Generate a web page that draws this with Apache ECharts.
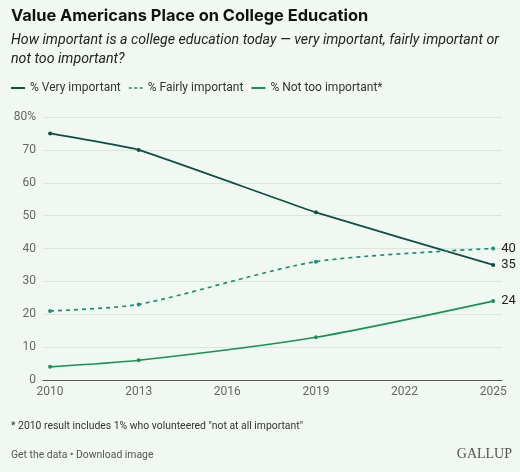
<!DOCTYPE html>
<html>
<head>
<meta charset="utf-8">
<script src="https://cdn.jsdelivr.net/npm/echarts@6/dist/echarts.min.js"></script>
<style>
  html, body { margin: 0; padding: 0; background: #f1f8f1; }
  #container { width: 520px; height: 472px; }
</style>
</head>
<body>
<div id="container"></div>
<script>
var years = [2010, 2013, 2019, 2025];
var yearTicks = [2010, 2013, 2016, 2019, 2022, 2025];
var veryImportant = [75, 70, 51, 35];
var fairlyImportant = [21, 23, 36, 40];
var notTooImportant = [4, 6, 13, 24];
var seriesNames = ['% Very important', '% Fairly important', '% Not too important*'];

function pairs(vals) {
    return vals.map(function (v, i) {
        var item = { value: [years[i], v] };
        if (i === vals.length - 1) {
            item.label = { show: true };
        }
        return item;
    });
}

var font = 'Roboto, "Noto Sans", sans-serif';
var dom = document.getElementById('container');
var myChart = echarts.init(dom);
var option = {
    backgroundColor: '#f1f8f1',
    textStyle: { fontFamily: font },
    graphic: [
        { type: 'text', left: 11, top: 8, style: { text: 'Value Americans Place on College Education', font: 'bold 16.4px Inter, ' + font, fill: '#111' } },
        { type: 'text', left: 11, top: 31, style: { text: 'How important is a college education today \u2014 very important, fairly important or\nnot too important?', font: 'italic 14.2px ' + font, fill: '#222', lineHeight: 19 } },
        { type: 'text', left: 11, top: 421, style: { text: '* 2010 result includes 1% who volunteered "not at all important"', font: '10.4px ' + font, fill: '#333' } },
        { type: 'text', left: 11, top: 450, style: { text: 'Get the data \u2022 Download image', font: '10.4px ' + font, fill: '#555' } },
        { type: 'text', right: 8, top: 447, style: { text: 'GALLUP', font: '14px "Liberation Serif", "DejaVu Serif", serif', fill: '#555' } }
    ],
    legend: {
        left: 11,
        top: 82,
        padding: 0,
        itemWidth: 14,
        itemHeight: 2,
        itemGap: 8,
        textStyle: { color: '#333', fontSize: 12, fontFamily: font },
        data: [
            { name: seriesNames[0], icon: 'rect' },
            { name: seriesNames[1], icon: 'path://M0,0h4v2h-4z M7,0h4v2h-4z M14,0h4v2h-4z' },
            { name: seriesNames[2], icon: 'rect' }
        ]
    },
    grid: { left: 43, right: 18, top: 117, bottom: 92 },
    xAxis: {
        type: 'value',
        min: 2009.76,
        max: 2025.3,
        axisLine: { show: true, lineStyle: { color: '#555', width: 1 } },
        axisTick: { show: false },
        splitLine: { show: false },
        axisLabel: {
            customValues: yearTicks,
            color: '#666',
            fontSize: 12,
            margin: 6,
            formatter: function (v) { return String(v); }
        }
    },
    yAxis: {
        type: 'value',
        min: 0,
        max: 80,
        interval: 10,
        axisLine: { show: false },
        axisTick: { show: false },
        splitLine: { lineStyle: { color: '#dde4dd', width: 1 } },
        axisLabel: {
            color: '#666',
            fontSize: 12,
            margin: 7,
            formatter: function (v) { return v === 80 ? '80%' : v; }
        }
    },
    series: [
        {
            name: seriesNames[0],
            type: 'line',
            data: pairs(veryImportant),
            smooth: 0.1,
            symbol: 'circle',
            symbolSize: 4,
            color: '#0b4f45',
            lineStyle: { width: 1.7, color: '#0b4f45' },
            label: { show: false, position: 'right', color: '#222', fontSize: 13, distance: 6, formatter: function (p) { return p.value[1]; } }
        },
        {
            name: seriesNames[1],
            type: 'line',
            data: pairs(fairlyImportant),
            smooth: 0.25,
            symbol: 'circle',
            symbolSize: 4,
            color: '#1a8f78',
            lineStyle: { width: 1.7, type: [4, 4], color: '#1a8f78' },
            label: { show: false, position: 'right', color: '#222', fontSize: 13, distance: 6, formatter: function (p) { return p.value[1]; } }
        },
        {
            name: seriesNames[2],
            type: 'line',
            data: pairs(notTooImportant),
            smooth: 0.25,
            symbol: 'circle',
            symbolSize: 4,
            color: '#179454',
            lineStyle: { width: 1.7, color: '#179454' },
            label: { show: false, position: 'right', color: '#222', fontSize: 13, distance: 6, formatter: function (p) { return p.value[1]; } }
        }
    ]
};
myChart.setOption(option, true);
</script>
</body>
</html>
